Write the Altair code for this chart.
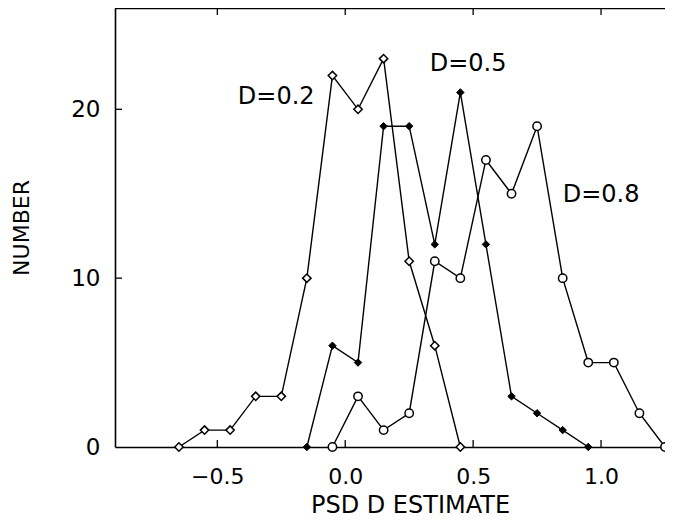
import altair as alt
import pandas as pd

# ---- data ----
d02_x = [-0.65, -0.55, -0.45, -0.35, -0.25, -0.15, -0.05, 0.05, 0.15, 0.25, 0.35, 0.45]
d02_n = [0, 1, 1, 3, 3, 10, 22, 20, 23, 11, 6, 0]

d05_x = [-0.15, -0.05, 0.05, 0.15, 0.25, 0.35, 0.45, 0.55, 0.65, 0.75, 0.85, 0.95]
d05_n = [0, 6, 5, 19, 19, 12, 21, 12, 3, 2, 1, 0]

d08_x = [-0.05, 0.05, 0.15, 0.25, 0.35, 0.45, 0.55, 0.65, 0.75, 0.85, 0.95, 1.05, 1.15, 1.25]
d08_n = [0, 3, 1, 2, 11, 10, 17, 15, 19, 10, 5, 5, 2, 0]

label_text = ["D=0.2", "D=0.5", "D=0.8"]
label_x = [-0.27, 0.48, 1.0]
label_y = [20.75, 22.7, 14.95]

x_ticks = [-0.5, 0.0, 0.5, 1.0]
y_ticks = [0, 10, 20]
y_inner_ticks = [10, 20]

W, H = 550, 439
FONT = "DejaVu Sans"

df = pd.concat([
    pd.DataFrame({"x": d02_x, "n": d02_n, "series": "D=0.2"}),
    pd.DataFrame({"x": d05_x, "n": d05_n, "series": "D=0.5"}),
    pd.DataFrame({"x": d08_x, "n": d08_n, "series": "D=0.8"}),
], ignore_index=True)

labels = pd.DataFrame({"x": label_x, "n": label_y, "text": label_text})
xt = pd.DataFrame({"t": x_ticks})
yt = pd.DataFrame({"t": y_inner_ticks})

xscale = alt.Scale(domain=[-0.9, 1.25], nice=False, zero=False)
yscale = alt.Scale(domain=[0, 26], nice=False, zero=False)

xaxis = alt.Axis(values=x_ticks, format=".1f", title="PSD D ESTIMATE", grid=False,
                 ticks=False, tickSize=0, labelPadding=36, labelBaseline="alphabetic",
                 labelFont=FONT, labelFontSize=22, labelColor="black",
                 titleFont=FONT, titleFontSize=24, titleFontWeight="normal", titleColor="black",
                 titleX=295, titleY=65, titleBaseline="alphabetic",
                 domainColor="black", domainWidth=1.6)
yaxis = alt.Axis(values=y_ticks, format="d", title="NUMBER", grid=False,
                 ticks=False, tickSize=0, labelPadding=15,
                 labelFont=FONT, labelFontSize=23, labelColor="black",
                 titleFont=FONT, titleFontSize=22, titleFontWeight="normal", titleColor="black",
                 titleX=-82, titleY=H / 2, titleAngle=-90, titleBaseline="bottom",
                 domainColor="black", domainWidth=1.6)

X = alt.X("x:Q", scale=xscale, axis=xaxis)
Y = alt.Y("n:Q", scale=yscale, axis=yaxis)

lines = alt.Chart(df).mark_line(color="black", strokeWidth=1.4).encode(
    x=X, y=Y, detail="series:N"
)

p02 = alt.Chart(df).transform_filter(alt.datum.series == "D=0.2").mark_point(
    shape="diamond", filled=True, fill="white", stroke="black", strokeWidth=1.5, size=70, opacity=1
).encode(x=X, y=Y)
p05 = alt.Chart(df).transform_filter(alt.datum.series == "D=0.5").mark_point(
    shape="diamond", filled=True, fill="black", stroke="black", strokeWidth=1, size=55, opacity=1
).encode(x=X, y=Y)
p08 = alt.Chart(df).transform_filter(alt.datum.series == "D=0.8").mark_point(
    shape="circle", filled=True, fill="white", stroke="black", strokeWidth=1.5, size=70, opacity=1
).encode(x=X, y=Y)

text = alt.Chart(labels).mark_text(font=FONT, fontSize=24, color="black",
                                   align="center", baseline="middle").encode(
    x=X, y=Y, text="text:N"
)

top_frame = alt.Chart(pd.DataFrame({"a": [0]})).mark_rule(color="black", strokeWidth=1.6).encode(
    x=alt.value(0), x2=alt.value(W), y=alt.value(0.5)
)
bottom_ticks = alt.Chart(xt).mark_rule(color="black", strokeWidth=1.3).encode(
    x=alt.X("t:Q", scale=xscale), y=alt.value(H), y2=alt.value(H - 7)
)
top_ticks = alt.Chart(xt).mark_rule(color="black", strokeWidth=1.3).encode(
    x=alt.X("t:Q", scale=xscale), y=alt.value(0), y2=alt.value(7)
)
left_ticks = alt.Chart(yt).mark_rule(color="black", strokeWidth=1.3).encode(
    y=alt.Y("t:Q", scale=yscale), x=alt.value(0), x2=alt.value(7)
)

chart = alt.layer(
    top_frame, bottom_ticks, top_ticks, left_ticks, lines, p02, p05, p08, text
).properties(
    width=W, height=H,
    autosize=alt.AutoSizeParams(type="none"),
    padding={"left": 107, "top": 0, "right": 0, "bottom": 71},
    background="white",
).configure_view(stroke=None)

chart.save("out.html", embed_options={"renderer": "svg", "actions": False})
